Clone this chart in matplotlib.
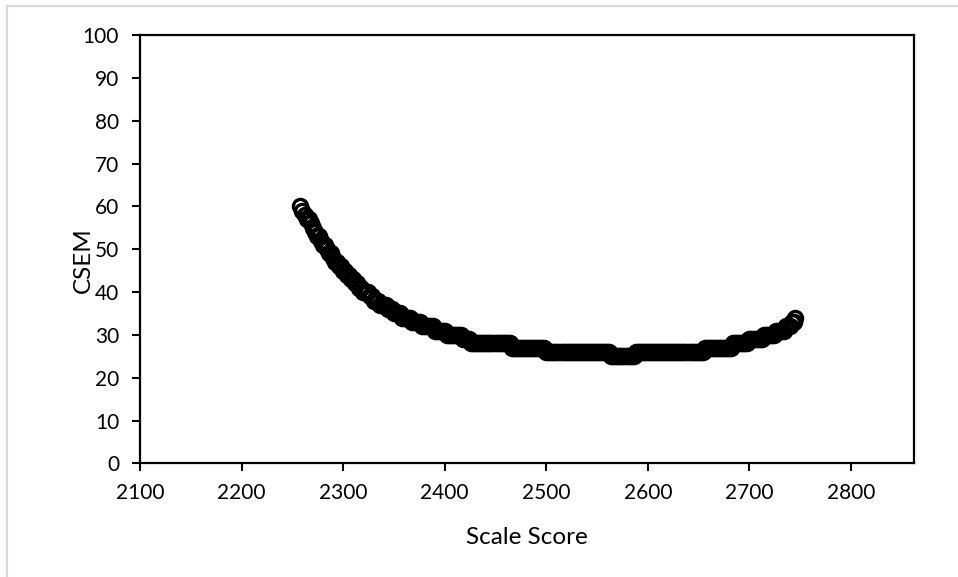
import matplotlib.pyplot as plt
from matplotlib.lines import Line2D

# scale scores every 2 points, plus the last one
scale_score = list(range(2258, 2745, 2)) + [2745]

# CSEM, one value per scale score above
csem = [
    60, 59, 58, 57, 57, 56, 55, 54, 53, 53,
    52, 51, 51, 50, 49, 49, 48, 47, 47, 46,
    46, 45, 45, 44, 44, 43, 43, 42, 42, 41,
    41, 40, 40, 40, 39, 39, 38, 38, 38, 37,
    37, 37, 37, 36, 36, 36, 35, 35, 35, 35,
    34, 34, 34, 34, 34, 33, 33, 33, 33, 33,
    32, 32, 32, 32, 32, 32, 31, 31, 31, 31,
    31, 31, 30, 30, 30, 30, 30, 30, 30, 30,
    29, 29, 29, 29, 28, 28, 28, 28, 28, 28,
    28, 28, 28, 28, 28, 28, 28, 28, 28, 28,
    28, 28, 28, 28, 27, 27, 27, 27, 27, 27,
    27, 27, 27, 27, 27, 27, 27, 27, 27, 27,
    27, 26, 26, 26, 26, 26, 26, 26, 26, 26,
    26, 26, 26, 26, 26, 26, 26, 26, 26, 26,
    26, 26, 26, 26, 26, 26, 26, 26, 26, 26,
    26, 26, 26, 25, 25, 25, 25, 25, 25, 25,
    25, 25, 25, 25, 25, 26, 26, 26, 26, 26,
    26, 26, 26, 26, 26, 26, 26, 26, 26, 26,
    26, 26, 26, 26, 26, 26, 26, 26, 26, 26,
    26, 26, 26, 26, 26, 26, 26, 26, 26, 27,
    27, 27, 27, 27, 27, 27, 27, 27, 27, 27,
    27, 27, 27, 28, 28, 28, 28, 28, 28, 28,
    28, 29, 29, 29, 29, 29, 29, 29, 30, 30,
    30, 30, 30, 30, 31, 31, 31, 31, 31, 32,
    32, 32, 33, 33, 34,
]

x_ticks = [2100, 2200, 2300, 2400, 2500, 2600, 2700, 2800]
y_ticks = list(range(0, 101, 10))

plt.rcParams['font.family'] = ['Lato', 'DejaVu Sans']

fig = plt.figure(figsize=(9.58, 5.77), dpi=100)
ax = fig.add_axes([0.1461, 0.197, 0.808, 0.7423])

ax.plot(scale_score, csem, linestyle='none', marker='o', markersize=10.2,
        markerfacecolor='none', markeredgecolor='black', markeredgewidth=2.4,
        clip_on=False)

ax.set_xlim(2100, 2862)
ax.set_ylim(0, 100)
ax.set_xticks(x_ticks)
ax.set_yticks(y_ticks)

for s in ax.spines.values():
    s.set_linewidth(1.6)
    s.set_color('black')

ax.tick_params(axis='both', direction='out', length=6, width=1.5,
               labelsize=15, colors='black')
ax.tick_params(axis='y', pad=9)
ax.tick_params(axis='x', pad=8)
ax.tick_params(top=False, right=False)

# axis titles placed like the Excel ones
fig.text(527 / 958, 1 - 537 / 577, 'Scale Score', fontsize=17.5,
         ha='center', va='center')
fig.text(83 / 958, 1 - 260 / 577, 'CSEM', fontsize=17.5, rotation=90,
         ha='center', va='center')

# light chart-area border (top and left edges visible in the crop)
fig.add_artist(Line2D([6.5 / 958, 1.0], [1 - 5.5 / 577, 1 - 5.5 / 577],
                      transform=fig.transFigure, color='#d9d9d9', linewidth=1.6))
fig.add_artist(Line2D([6.5 / 958, 6.5 / 958], [0.0, 1 - 5.5 / 577],
                      transform=fig.transFigure, color='#d9d9d9', linewidth=1.6))

fig.savefig('out.png', dpi=100)
